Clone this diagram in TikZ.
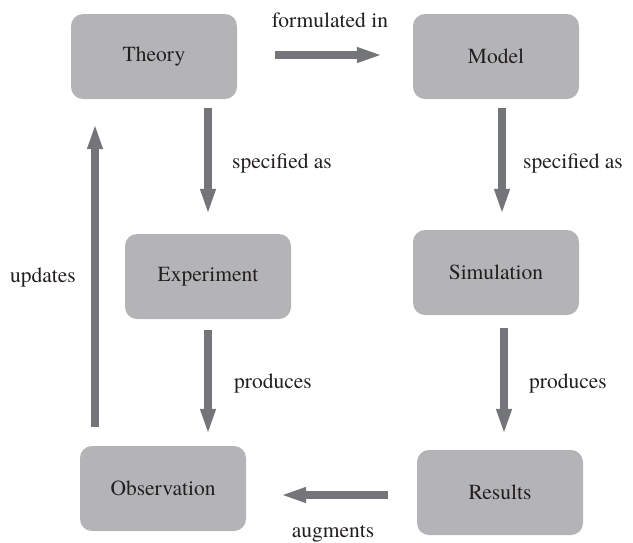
\documentclass[tikz,border=0pt]{standalone}
\usepackage{fontspec}
\setmainfont{texgyretermes-regular.otf}
\usetikzlibrary{arrows.meta}
\definecolor{boxgray}{RGB}{180,180,183}
\definecolor{arrgray}{RGB}{116,117,121}
\definecolor{txt}{RGB}{35,31,32}
\tikzset{
  stepbox/.style={rectangle, rounded corners=12pt, fill=boxgray, draw=none,
    minimum width=166pt, minimum height=85pt, inner sep=0pt, text=txt,
    font=\fontsize{21.5}{25}\selectfont},
  arr/.style={draw=arrgray, line width=8pt, -{Triangle[length=26pt,width=14pt]}},
  lbl/.style={anchor=base, inner sep=0pt, text=txt, font=\fontsize{21.5}{25}\selectfont}
}
\begin{document}
\begin{tikzpicture}[x=1pt,y=-1pt]
\useasboundingbox (0,0) rectangle (633,542);
\node[stepbox] (theory) at (154,56.5) {Theory};
\node[stepbox] (model) at (496,56.5) {Model};
\node[stepbox] (experiment) at (208,276.5) {Experiment};
\node[stepbox] (simulation) at (496,272.5) {Simulation};
\node[stepbox] (observation) at (163,488.5) {Observation};
\node[stepbox] (results) at (500,492.5) {Results};

\draw[arr] ([xshift=38pt,yshift=1.5pt]theory.east) -- ([xshift=-30pt,yshift=1.5pt]model.west);
\draw[arr] ([xshift=54pt,yshift=-9pt]theory.south) -- ([yshift=19pt]experiment.north);
\draw[arr] ([xshift=6pt,yshift=-9pt]model.south) -- ([xshift=6pt,yshift=15pt]simulation.north);
\draw[arr] ([yshift=-11pt]experiment.south) -- ([xshift=45pt,yshift=11pt]observation.north);
\draw[arr] ([xshift=8pt,yshift=-13pt]simulation.south) -- ([xshift=4pt,yshift=15pt]results.north);
\draw[arr] ([xshift=-29pt,yshift=-2.5pt]results.west) -- ([xshift=34pt,yshift=-6.5pt]observation.east);
\draw[arr] ([xshift=-68pt,yshift=19pt]observation.north) -- ([xshift=-59pt,yshift=-24pt]theory.south);

\node[lbl] (l1) at (330,27) {formulated in};
\node[lbl] (l2) at (282,168) {specified as};
\node[lbl] (l3) at (573,168) {specified as};
\node[lbl] (l4) at (273,388) {produces};
\node[lbl] (l5) at (568,388) {produces};
\node[lbl] (l6) at (333,537) {augments};
\node[lbl] (l7) at (43,282) {updates};
\end{tikzpicture}
\end{document}
